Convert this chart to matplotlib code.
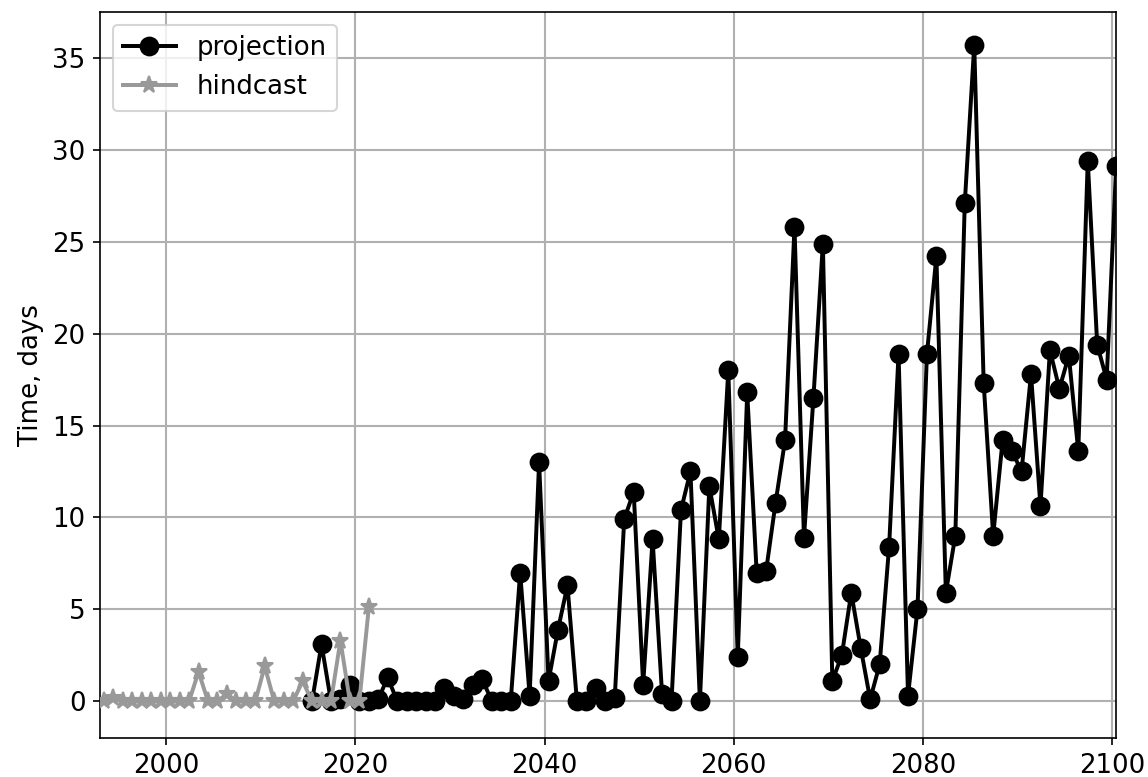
import matplotlib
matplotlib.use("Agg")
import matplotlib.pyplot as plt
import numpy as np

plt.rcParams['font.size'] = 12.5

# annual values, plotted at mid-year
hind_years = np.arange(1993, 2022)
hind_days = [0, 0.2, 0, 0, 0, 0, 0, 0, 0, 0,
             1.6, 0, 0, 0.4, 0, 0, 0, 1.9, 0, 0,
             0, 1.1, 0, 0, 0, 3.3, 0, 0, 5.1]

proj_years = np.arange(2015, 2101)
proj_days = [0, 3.1, 0, 0.1, 0.9, 0, 0, 0.1, 1.3, 0,
             0, 0, 0, 0, 0.7, 0.3, 0.1, 0.9, 1.2, 0,
             0, 0, 7.0, 0.3, 13.0, 1.1, 3.9, 6.3, 0, 0,
             0.7, 0, 0.2, 9.9, 11.4, 0.9, 8.8, 0.4, 0, 10.4,
             12.5, 0, 11.7, 8.8, 18.0, 2.4, 16.8, 7.0, 7.1, 10.8,
             14.2, 25.8, 8.9, 16.5, 24.9, 1.1, 2.5, 5.9, 2.9, 0.1,
             2.0, 8.4, 18.9, 0.3, 5.0, 18.9, 24.2, 5.9, 9.0, 27.1,
             35.7, 17.3, 9.0, 14.2, 13.6, 12.5, 17.8, 10.6, 19.1, 17.0,
             18.8, 13.6, 29.4, 19.4, 17.5, 29.1]

off = 5.0 / 12.0

fig = plt.figure(figsize=(1148 / 150., 777 / 150.), dpi=150)
ax = fig.add_axes([0.0871, 0.0502, 0.885, 0.9344])

ax.plot(proj_years + off, proj_days, 'o-', color='black', lw=1.9, ms=8.5,
        label='projection', zorder=3)
ax.plot(hind_years + off, hind_days, '*-', color='#999999', lw=1.9, ms=8.5,
        label='hindcast', zorder=4)

ax.set_xlim(1993.0, 2100.4)
ax.set_ylim(-2.0, 37.5)
ax.set_xticks(np.arange(2000, 2101, 20))
ax.set_yticks(np.arange(0, 36, 5))
ax.grid(True, color='#b0b0b0', lw=1.0)
ax.set_axisbelow(True)
ax.set_ylabel('Time, days')
ax.legend(loc='upper left')

fig.savefig('out.png', dpi=150)
